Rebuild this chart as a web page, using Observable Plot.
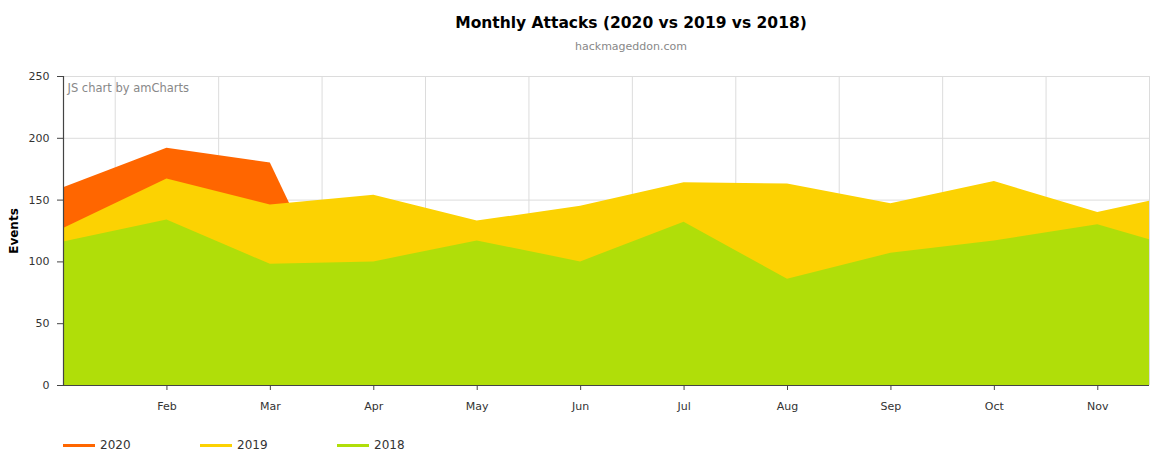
<!DOCTYPE html>
<html>
<head>
<meta charset="utf-8">
<script src="https://cdn.jsdelivr.net/npm/d3@7"></script>
<script src="https://cdn.jsdelivr.net/npm/@observablehq/plot@0.6"></script>
<style>
  html, body { margin: 0; padding: 0; background: #fff; }
  #wrap { position: relative; width: 1150px; height: 450px; font-family: "DejaVu Sans", Verdana, sans-serif; }
  #chart { position: absolute; left: 0; top: 0; }
  .title { position: absolute; left: 631px; top: 14px; transform: translateX(-50%); font-size: 15.5px; font-weight: bold; color: #000; white-space: nowrap; }
  .subtitle { position: absolute; left: 631px; top: 40px; transform: translateX(-50%); font-size: 11px; color: #888; white-space: nowrap; }
  .legend { position: absolute; top: 438px; left: 0; font-size: 12px; color: #333; }
  .legend .item { position: absolute; white-space: nowrap; display: flex; align-items: center; }
  .legend .swatch { display: inline-block; width: 32px; height: 3px; margin-right: 5px; }
</style>
</head>
<body>
<div id="wrap">
  <div id="chart"></div>
  <div class="title">Monthly Attacks (2020 vs 2019 vs 2018)</div>
  <div class="subtitle">hackmageddon.com</div>
  <div class="legend" id="legend"></div>
</div>
<script>
const months = ["Jan","Feb","Mar","Apr","May","Jun","Jul","Aug","Sep","Oct","Nov","Dec"];
const years = ["2020","2019","2018"];
const colors = ["#FF6600","#FCD202","#B0DE09"];
const v2020 = [160, 192, 180, 4];
const v2019 = [127, 167, 146, 154, 133, 145, 164, 163, 147, 165, 140, 158];
const v2018 = [116, 134, 98, 100, 117, 100, 132, 86, 107, 117, 130, 106];
const yTicks = [0, 50, 100, 150, 200, 250];
const xTickMonths = ["Feb","Mar","Apr","May","Jun","Jul","Aug","Sep","Oct","Nov"];

const rows = (vals, year) => vals.map((v, i) => ({i, month: months[i], value: v, year}));
const d2020 = rows(v2020, "2020");
const d2019 = rows(v2019, "2019");
const d2018 = rows(v2018, "2018");

const xTicks = xTickMonths.map(m => months.indexOf(m));
const gridX = months.slice(0, 11).map((m, i) => i + 0.5);

const chart = Plot.plot({
  width: 1150,
  height: 450,
  marginLeft: 63,
  marginRight: 1,
  marginTop: 76,
  marginBottom: 65,
  x: {type: "linear", domain: [0, 10.5], axis: null},
  y: {domain: [0, 250], axis: null},
  style: {fontFamily: "DejaVu Sans, Verdana, sans-serif", fontSize: "11px", color: "#444", background: "white"},
  marks: [
    Plot.ruleY(yTicks.slice(1), {stroke: "#dcdcdc", strokeWidth: 1}),
    Plot.ruleX(gridX, {stroke: "#dcdcdc", strokeWidth: 1}),
    Plot.areaY(d2020, {x: "i", y: "value", fill: colors[0], clip: true}),
    Plot.areaY(d2019, {x: "i", y: "value", fill: colors[1], clip: true}),
    Plot.areaY(d2018, {x: "i", y: "value", fill: colors[2], clip: true}),
    Plot.ruleY([0], {stroke: "#444", strokeWidth: 1.2}),
    Plot.ruleX([0], {stroke: "#444", strokeWidth: 1.2}),
    Plot.axisY({ticks: yTicks, tickSize: 6, tickPadding: 8, label: null, stroke: "#444", fill: "#333"}),
    Plot.axisX({ticks: xTicks, tickFormat: i => months[i], tickSize: 5, tickPadding: 12, label: null, stroke: "#444", fill: "#333"}),
    Plot.text(["Events"], {frameAnchor: "left", rotate: -90, dx: -49, textAnchor: "middle", fontWeight: "bold", fontSize: 12, fill: "#000"}),
    Plot.text(["JS chart by amCharts"], {frameAnchor: "top-left", dx: 4, dy: 7, textAnchor: "start", lineAnchor: "top", fontSize: 11.5, fill: "#888"})
  ]
});
document.getElementById("chart").appendChild(chart);

const legend = document.getElementById("legend");
const legendX = [63, 200, 337];
years.forEach((y, k) => {
  const item = document.createElement("div");
  item.className = "item";
  item.style.left = legendX[k] + "px";
  item.innerHTML = `<span class="swatch" style="background:${colors[k]}"></span><span>${y}</span>`;
  legend.appendChild(item);
});
</script>
</body>
</html>
